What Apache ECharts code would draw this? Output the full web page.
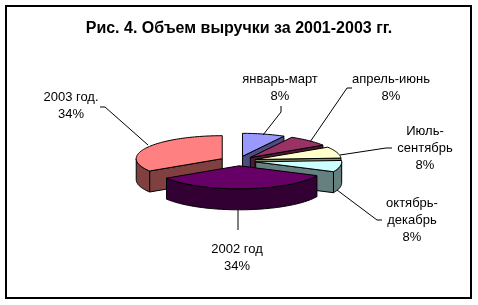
<!DOCTYPE html>
<html><head><meta charset="utf-8">
<script src="https://cdn.jsdelivr.net/npm/echarts@6/dist/echarts.min.js"></script>
<style>html,body{margin:0;padding:0;background:#fff}#c{width:478px;height:305px}</style>
</head><body><div id="c"></div>
<script>
const title = 'Рис. 4. Объем выручки за 2001-2003 гг.';
const categories = ['январь-март', 'апрель-июнь', 'Июль-\nсентябрь', 'октябрь-\nдекабрь', '2002 год', '2003 год.'];
const values = [8, 8, 8, 8, 34, 34];
const topColors = ['#9999FF', '#993366', '#FFFFCC', '#CCFFFF', '#660066', '#FF8080'];
const sideColors = ['#4C4C80', '#4D1A33', '#808066', '#668080', '#330033', '#804040'];

// layout (not data)
const G = { cx: 238, cy: 161, rx: 86, ry: 23, depth: 21, explode: 18 };
const labelLayout = [
  { x: 280, y: 88,  line: [[281, 106], [281, 112], [263, 135]] },
  { x: 391, y: 88,  line: [[352, 88], [347, 88], [310, 142]] },
  { x: 425, y: 148, line: [[392, 148], [386, 148], [340, 155]] },
  { x: 412, y: 220, line: [[337, 190], [377, 220], [382, 220]] },
  { x: 237, y: 258, line: [[238, 210], [238, 230]] },
  { x: 71,  y: 106, line: [[100, 107], [105, 107], [148, 145]] }
];

const total = values.reduce((a, b) => a + b, 0);
const starts = [];
let acc = 0;
values.forEach(v => { starts.push(acc); acc += v; });

function P(th, ox, oy, dz) {
  return [ox + G.rx * Math.sin(th), oy - G.ry * Math.cos(th) + (dz || 0)];
}
function arc(a, b, ox, oy, dz) {
  const pts = [];
  const n = Math.max(2, Math.ceil((b - a) / 0.03));
  for (let k = 0; k <= n; k++) pts.push(P(a + (b - a) * k / n, ox, oy, dz));
  return pts;
}

function renderItem(params, api) {
  const i = params.dataIndex;
  const v = api.value(0);
  const ts = 2 * Math.PI * starts[i] / total;
  const te = 2 * Math.PI * (starts[i] + v) / total;
  const tm = (ts + te) / 2;
  const ox = G.cx + G.explode * Math.sin(tm);
  const oy = G.cy - G.explode * (G.ry / G.rx) * Math.cos(tm);
  const base = Math.round((1 - Math.cos(tm)) * 100) * 10;
  const D = G.depth;
  const children = [];
  const stroke = { stroke: '#000', lineWidth: 1, lineJoin: 'round' };
  if (Math.sin(ts) < -1e-6) {
    const o = P(ts, ox, oy);
    children.push({ type: 'polygon', z2: base, shape: { points: [[ox, oy], o, [o[0], o[1] + D], [ox, oy + D]] }, style: Object.assign({ fill: sideColors[i] }, stroke) });
  }
  if (Math.sin(te) > 1e-6) {
    const o = P(te, ox, oy);
    children.push({ type: 'polygon', z2: base, shape: { points: [[ox, oy], o, [o[0], o[1] + D], [ox, oy + D]] }, style: Object.assign({ fill: sideColors[i] }, stroke) });
  }
  const a = Math.max(ts, Math.PI / 2), b = Math.min(te, 3 * Math.PI / 2);
  if (b > a) {
    const top = arc(a, b, ox, oy, 0);
    const bot = arc(a, b, ox, oy, D).reverse();
    children.push({ type: 'polygon', z2: base + 1, shape: { points: top.concat(bot) }, style: Object.assign({ fill: sideColors[i] }, stroke) });
  }
  children.push({ type: 'polygon', z2: base + 2, shape: { points: [[ox, oy]].concat(arc(ts, te, ox, oy, 0)) }, style: Object.assign({ fill: topColors[i] }, stroke) });
  const L = labelLayout[i];
  const pct = Math.round(v / total * 100) + '%';
  children.push({ type: 'polyline', z2: 5000, shape: { points: L.line }, style: { stroke: '#000', lineWidth: 1, fill: null } });
  children.push({ type: 'text', z2: 5001, style: { text: categories[i] + '\n' + pct, x: L.x, y: L.y, align: 'center', verticalAlign: 'middle', font: '13px "Liberation Sans", Arial, sans-serif', lineHeight: 17, fill: '#000' } });
  return { type: 'group', children: children };
}

const chart = echarts.init(document.getElementById('c'), null, { renderer: 'canvas' });
chart.setOption({
  animation: false,
  backgroundColor: '#fff',
  title: { text: title, left: 'center', top: 16, textStyle: { fontFamily: '"Liberation Sans", Arial, sans-serif', fontSize: 16, fontWeight: 'bold', color: '#000' } },
  graphic: [{ type: 'rect', shape: { x: 6, y: 6, width: 465, height: 292 }, style: { fill: null, stroke: '#000', lineWidth: 2 }, z: 100 }],
  series: [{
    type: 'custom',
    coordinateSystem: 'none',
    renderItem: renderItem,
    data: values.map(v => [v]),
    silent: true
  }]
});
</script></body></html>
